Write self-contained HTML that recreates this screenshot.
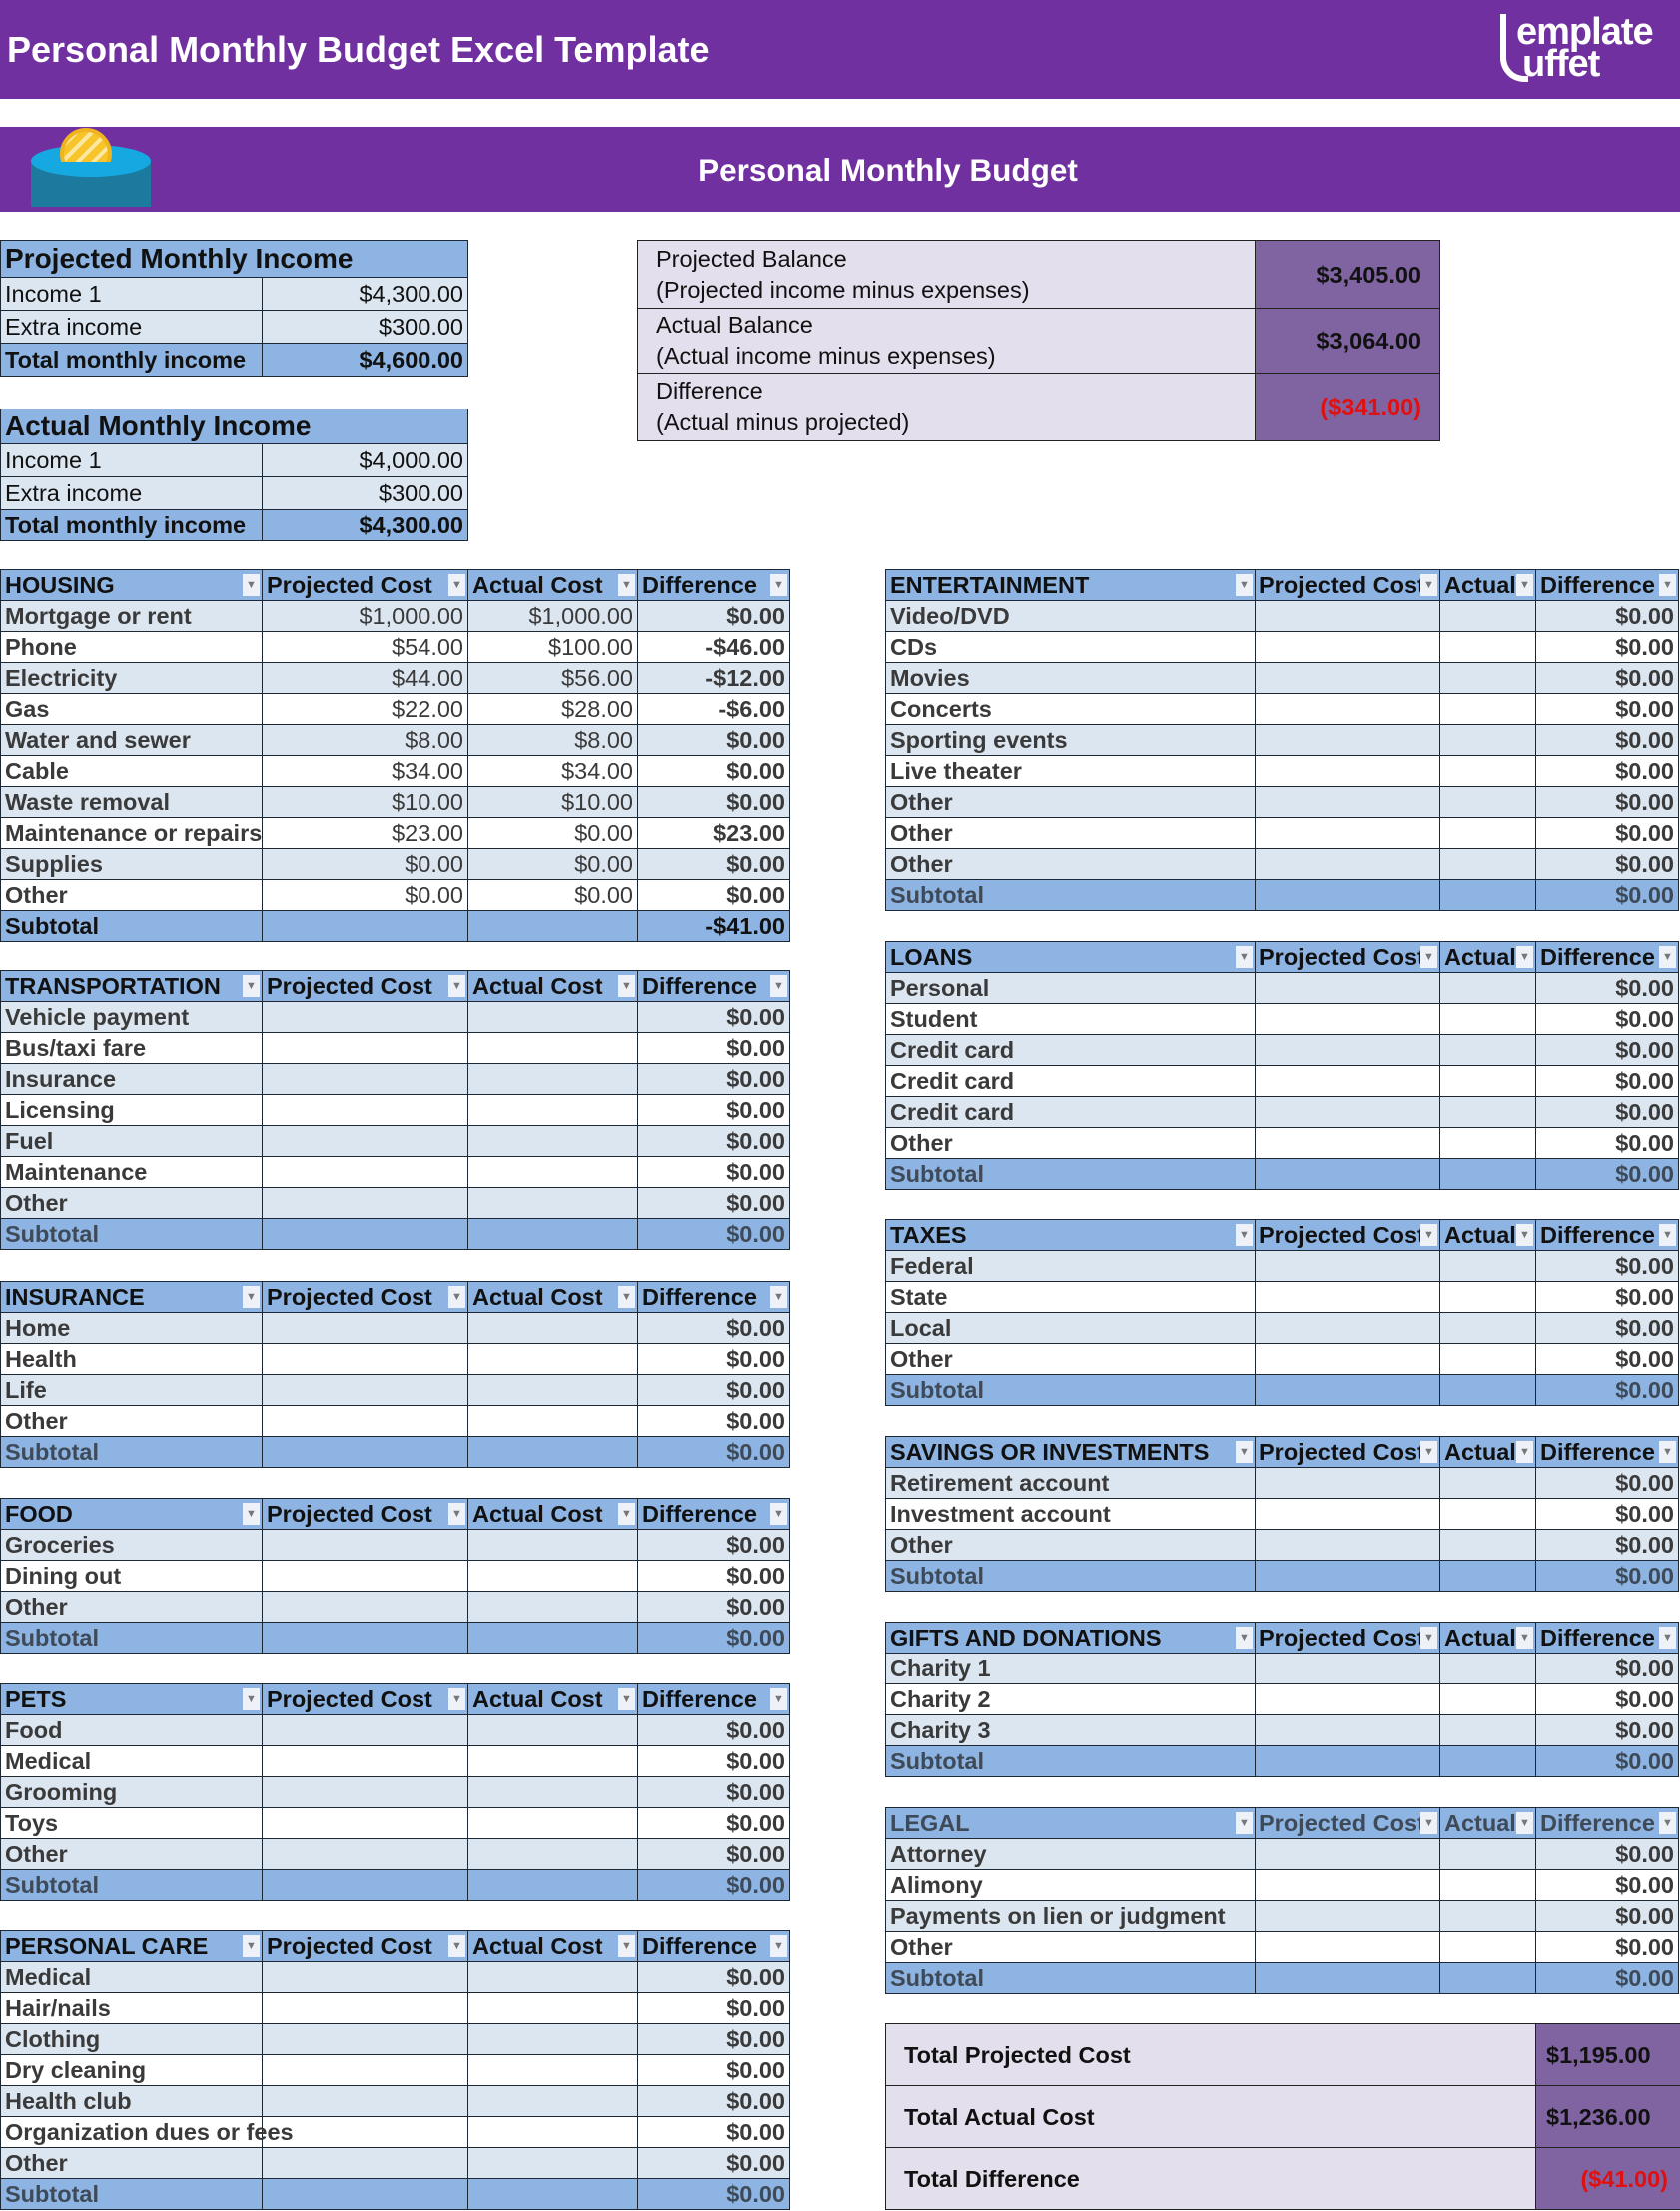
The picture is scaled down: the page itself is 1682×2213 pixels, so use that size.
<!DOCTYPE html>
<html><head><meta charset="utf-8"><style>
body{margin:0;width:1682px;height:2213px;position:relative;background:#fff;font-family:"Liberation Sans",Arial,sans-serif;overflow:hidden}
.bar{position:absolute;left:0;width:1682px;background:#7030a0;color:#fff;font-weight:bold}
table{position:absolute;border-collapse:collapse;table-layout:fixed}
td{position:relative;height:30px;padding:0 4px;border:1px solid #1c2836;font-weight:bold;font-size:23.5px;color:#3a3a3a;white-space:nowrap;overflow:hidden;line-height:28px}
tr.a td{background:#dce6f1}
tr.h td,tr.s td{background:#8db4e2;color:#111}
tr.s td.g,tr.h td.g{color:#3f4a58}
td.r{text-align:right}
td.n{font-weight:normal}
.dd{position:absolute;right:2px;top:4px;width:17px;height:22px;background:#eef2f8;color:#777;font-size:11px;text-align:center;line-height:22px;font-weight:normal}
.inc td{color:#111}
.box td{border:1.5px solid #222;background:#e4dfec;color:#111;font-weight:normal;padding-left:18px}
.box td.v{background:#8064a2;font-weight:bold;text-align:right;padding-right:18px}
</style></head><body>
<div class="bar" style="top:0;height:99px;font-size:36px;line-height:100px;padding-left:7px;box-sizing:border-box">Personal Monthly Budget Excel Template</div>
<div style="position:absolute;left:1498px;top:16px;color:#fff;font-weight:bold;font-size:38px;line-height:32px;letter-spacing:-1px">
<div style="padding-left:20px">emplate</div><div style="padding-left:26px">uffet</div></div>
<div style="position:absolute;left:1502px;top:14px;width:22px;height:62px;border-left:6px solid #fff;border-bottom:6px solid #fff;border-radius:0 0 0 24px"></div>
<div class="bar" style="top:127px;height:85px;font-size:31.5px;line-height:86px;text-align:center;padding-left:120px;box-sizing:border-box"><span style="position:relative;left:-12px">Personal Monthly Budget</span></div>
<div style="position:absolute;left:31px;top:160px;width:120px;height:47px;background:#1c7a9e"></div>
<div style="position:absolute;left:31px;top:145px;width:120px;height:32px;border-radius:50%;background:#16a9e1"></div>
<div style="position:absolute;left:60px;top:128px;width:56px;height:34px;overflow:hidden"><div style="width:52px;height:52px;border-radius:50%;background:repeating-linear-gradient(135deg,#f7c52a 0 7px,#fbe7a0 7px 11px);border:4px solid #f0b41f;box-sizing:border-box"></div></div>

<table class="inc" style="left:0;top:240px;width:468px"><col style="width:262px"><col style="width:206px">
<tr class="h"><td colspan="2" style="height:36px;font-size:28px">Projected Monthly Income</td></tr>
<tr class="a"><td class="n" style="height:32px">Income 1</td><td class="r n">$4,300.00</td></tr>
<tr class="a"><td class="n" style="height:32px">Extra income</td><td class="r n">$300.00</td></tr>
<tr class="h"><td style="height:32px">Total monthly income</td><td class="r">$4,600.00</td></tr></table>
<table class="inc" style="left:0;top:409px;width:468px"><col style="width:262px"><col style="width:206px">
<tr class="h"><td colspan="2" style="height:34px;font-size:28px;border-top:none">Actual Monthly Income</td></tr>
<tr class="a"><td class="n" style="height:32px">Income 1</td><td class="r n">$4,000.00</td></tr>
<tr class="a"><td class="n" style="height:32px">Extra income</td><td class="r n">$300.00</td></tr>
<tr class="h"><td style="height:30px">Total monthly income</td><td class="r">$4,300.00</td></tr></table>

<table class="box" style="left:638px;top:240px;width:803px"><col style="width:618px"><col style="width:185px">
<tr><td style="height:67px;line-height:31px">Projected Balance<br>(Projected income minus expenses)</td><td class="v">$3,405.00</td></tr>
<tr><td style="height:64px;line-height:31px">Actual Balance<br>(Actual income minus expenses)</td><td class="v">$3,064.00</td></tr>
<tr><td style="height:66px;line-height:31px">Difference<br>(Actual minus projected)</td><td class="v" style="color:#e01010;padding-right:18px">($341.00)</td></tr></table>

<table style="left:0;top:570px;width:790px"><col style="width:262px"><col style="width:206px"><col style="width:170px"><col style="width:152px">
<tr class="h"><td>HOUSING<span class="dd">▼</span></td><td>Projected Cost<span class="dd">▼</span></td><td>Actual Cost<span class="dd">▼</span></td><td>Difference<span class="dd">▼</span></td></tr>
<tr class="a"><td>Mortgage or rent</td><td class="r n">$1,000.00</td><td class="r n">$1,000.00</td><td class="r">$0.00</td></tr>
<tr><td>Phone</td><td class="r n">$54.00</td><td class="r n">$100.00</td><td class="r">-$46.00</td></tr>
<tr class="a"><td>Electricity</td><td class="r n">$44.00</td><td class="r n">$56.00</td><td class="r">-$12.00</td></tr>
<tr><td>Gas</td><td class="r n">$22.00</td><td class="r n">$28.00</td><td class="r">-$6.00</td></tr>
<tr class="a"><td>Water and sewer</td><td class="r n">$8.00</td><td class="r n">$8.00</td><td class="r">$0.00</td></tr>
<tr><td>Cable</td><td class="r n">$34.00</td><td class="r n">$34.00</td><td class="r">$0.00</td></tr>
<tr class="a"><td>Waste removal</td><td class="r n">$10.00</td><td class="r n">$10.00</td><td class="r">$0.00</td></tr>
<tr><td>Maintenance or repairs</td><td class="r n">$23.00</td><td class="r n">$0.00</td><td class="r">$23.00</td></tr>
<tr class="a"><td>Supplies</td><td class="r n">$0.00</td><td class="r n">$0.00</td><td class="r">$0.00</td></tr>
<tr><td>Other</td><td class="r n">$0.00</td><td class="r n">$0.00</td><td class="r">$0.00</td></tr>
<tr class="s"><td>Subtotal</td><td></td><td></td><td class="r">-$41.00</td></tr></table>

<table style="left:0;top:971px;width:790px"><col style="width:262px"><col style="width:206px"><col style="width:170px"><col style="width:152px">
<tr class="h"><td>TRANSPORTATION<span class="dd">▼</span></td><td>Projected Cost<span class="dd">▼</span></td><td>Actual Cost<span class="dd">▼</span></td><td>Difference<span class="dd">▼</span></td></tr>
<tr class="a"><td>Vehicle payment</td><td></td><td></td><td class="r">$0.00</td></tr>
<tr><td>Bus/taxi fare</td><td></td><td></td><td class="r">$0.00</td></tr>
<tr class="a"><td>Insurance</td><td></td><td></td><td class="r">$0.00</td></tr>
<tr><td>Licensing</td><td></td><td></td><td class="r">$0.00</td></tr>
<tr class="a"><td>Fuel</td><td></td><td></td><td class="r">$0.00</td></tr>
<tr><td>Maintenance</td><td></td><td></td><td class="r">$0.00</td></tr>
<tr class="a"><td>Other</td><td></td><td></td><td class="r">$0.00</td></tr>
<tr class="s"><td class="g">Subtotal</td><td></td><td></td><td class="r g">$0.00</td></tr></table>

<table style="left:0;top:1282px;width:790px"><col style="width:262px"><col style="width:206px"><col style="width:170px"><col style="width:152px">
<tr class="h"><td>INSURANCE<span class="dd">▼</span></td><td>Projected Cost<span class="dd">▼</span></td><td>Actual Cost<span class="dd">▼</span></td><td>Difference<span class="dd">▼</span></td></tr>
<tr class="a"><td>Home</td><td></td><td></td><td class="r">$0.00</td></tr>
<tr><td>Health</td><td></td><td></td><td class="r">$0.00</td></tr>
<tr class="a"><td>Life</td><td></td><td></td><td class="r">$0.00</td></tr>
<tr><td>Other</td><td></td><td></td><td class="r">$0.00</td></tr>
<tr class="s"><td class="g">Subtotal</td><td></td><td></td><td class="r g">$0.00</td></tr></table>

<table style="left:0;top:1499px;width:790px"><col style="width:262px"><col style="width:206px"><col style="width:170px"><col style="width:152px">
<tr class="h"><td>FOOD<span class="dd">▼</span></td><td>Projected Cost<span class="dd">▼</span></td><td>Actual Cost<span class="dd">▼</span></td><td>Difference<span class="dd">▼</span></td></tr>
<tr class="a"><td>Groceries</td><td></td><td></td><td class="r">$0.00</td></tr>
<tr><td>Dining out</td><td></td><td></td><td class="r">$0.00</td></tr>
<tr class="a"><td>Other</td><td></td><td></td><td class="r">$0.00</td></tr>
<tr class="s"><td class="g">Subtotal</td><td></td><td></td><td class="r g">$0.00</td></tr></table>

<table style="left:0;top:1685px;width:790px"><col style="width:262px"><col style="width:206px"><col style="width:170px"><col style="width:152px">
<tr class="h"><td>PETS<span class="dd">▼</span></td><td>Projected Cost<span class="dd">▼</span></td><td>Actual Cost<span class="dd">▼</span></td><td>Difference<span class="dd">▼</span></td></tr>
<tr class="a"><td>Food</td><td></td><td></td><td class="r">$0.00</td></tr>
<tr><td>Medical</td><td></td><td></td><td class="r">$0.00</td></tr>
<tr class="a"><td>Grooming</td><td></td><td></td><td class="r">$0.00</td></tr>
<tr><td>Toys</td><td></td><td></td><td class="r">$0.00</td></tr>
<tr class="a"><td>Other</td><td></td><td></td><td class="r">$0.00</td></tr>
<tr class="s"><td class="g">Subtotal</td><td></td><td></td><td class="r g">$0.00</td></tr></table>

<table style="left:0;top:1932px;width:790px"><col style="width:262px"><col style="width:206px"><col style="width:170px"><col style="width:152px">
<tr class="h"><td>PERSONAL CARE<span class="dd">▼</span></td><td>Projected Cost<span class="dd">▼</span></td><td>Actual Cost<span class="dd">▼</span></td><td>Difference<span class="dd">▼</span></td></tr>
<tr class="a"><td>Medical</td><td></td><td></td><td class="r">$0.00</td></tr>
<tr><td>Hair/nails</td><td></td><td></td><td class="r">$0.00</td></tr>
<tr class="a"><td>Clothing</td><td></td><td></td><td class="r">$0.00</td></tr>
<tr><td>Dry cleaning</td><td></td><td></td><td class="r">$0.00</td></tr>
<tr class="a"><td>Health club</td><td></td><td></td><td class="r">$0.00</td></tr>
<tr><td style="overflow:visible;z-index:2">Organization dues or fees</td><td></td><td></td><td class="r">$0.00</td></tr>
<tr class="a"><td>Other</td><td></td><td></td><td class="r">$0.00</td></tr>
<tr class="s"><td class="g">Subtotal</td><td></td><td></td><td class="r g">$0.00</td></tr></table>

<table style="left:886px;top:570px;width:794px"><col style="width:370px"><col style="width:185px"><col style="width:96px"><col style="width:143px">
<tr class="h"><td>ENTERTAINMENT<span class="dd">▼</span></td><td>Projected Cost<span class="dd">▼</span></td><td>Actual<span class="dd">▼</span></td><td>Difference<span class="dd">▼</span></td></tr>
<tr class="a"><td>Video/DVD</td><td></td><td></td><td class="r">$0.00</td></tr>
<tr><td>CDs</td><td></td><td></td><td class="r">$0.00</td></tr>
<tr class="a"><td>Movies</td><td></td><td></td><td class="r">$0.00</td></tr>
<tr><td>Concerts</td><td></td><td></td><td class="r">$0.00</td></tr>
<tr class="a"><td>Sporting events</td><td></td><td></td><td class="r">$0.00</td></tr>
<tr><td>Live theater</td><td></td><td></td><td class="r">$0.00</td></tr>
<tr class="a"><td>Other</td><td></td><td></td><td class="r">$0.00</td></tr>
<tr><td>Other</td><td></td><td></td><td class="r">$0.00</td></tr>
<tr class="a"><td>Other</td><td></td><td></td><td class="r">$0.00</td></tr>
<tr class="s"><td class="g">Subtotal</td><td></td><td></td><td class="r g">$0.00</td></tr></table>

<table style="left:886px;top:942px;width:794px"><col style="width:370px"><col style="width:185px"><col style="width:96px"><col style="width:143px">
<tr class="h"><td>LOANS<span class="dd">▼</span></td><td>Projected Cost<span class="dd">▼</span></td><td>Actual<span class="dd">▼</span></td><td>Difference<span class="dd">▼</span></td></tr>
<tr class="a"><td>Personal</td><td></td><td></td><td class="r">$0.00</td></tr>
<tr><td>Student</td><td></td><td></td><td class="r">$0.00</td></tr>
<tr class="a"><td>Credit card</td><td></td><td></td><td class="r">$0.00</td></tr>
<tr><td>Credit card</td><td></td><td></td><td class="r">$0.00</td></tr>
<tr class="a"><td>Credit card</td><td></td><td></td><td class="r">$0.00</td></tr>
<tr><td>Other</td><td></td><td></td><td class="r">$0.00</td></tr>
<tr class="s"><td class="g">Subtotal</td><td></td><td></td><td class="r g">$0.00</td></tr></table>

<table style="left:886px;top:1220px;width:794px"><col style="width:370px"><col style="width:185px"><col style="width:96px"><col style="width:143px">
<tr class="h"><td>TAXES<span class="dd">▼</span></td><td>Projected Cost<span class="dd">▼</span></td><td>Actual<span class="dd">▼</span></td><td>Difference<span class="dd">▼</span></td></tr>
<tr class="a"><td>Federal</td><td></td><td></td><td class="r">$0.00</td></tr>
<tr><td>State</td><td></td><td></td><td class="r">$0.00</td></tr>
<tr class="a"><td>Local</td><td></td><td></td><td class="r">$0.00</td></tr>
<tr><td>Other</td><td></td><td></td><td class="r">$0.00</td></tr>
<tr class="s"><td class="g">Subtotal</td><td></td><td></td><td class="r g">$0.00</td></tr></table>

<table style="left:886px;top:1437px;width:794px"><col style="width:370px"><col style="width:185px"><col style="width:96px"><col style="width:143px">
<tr class="h"><td>SAVINGS OR INVESTMENTS<span class="dd">▼</span></td><td>Projected Cost<span class="dd">▼</span></td><td>Actual<span class="dd">▼</span></td><td>Difference<span class="dd">▼</span></td></tr>
<tr class="a"><td>Retirement account</td><td></td><td></td><td class="r">$0.00</td></tr>
<tr><td>Investment account</td><td></td><td></td><td class="r">$0.00</td></tr>
<tr class="a"><td>Other</td><td></td><td></td><td class="r">$0.00</td></tr>
<tr class="s"><td class="g">Subtotal</td><td></td><td></td><td class="r g">$0.00</td></tr></table>

<table style="left:886px;top:1623px;width:794px"><col style="width:370px"><col style="width:185px"><col style="width:96px"><col style="width:143px">
<tr class="h"><td>GIFTS AND DONATIONS<span class="dd">▼</span></td><td>Projected Cost<span class="dd">▼</span></td><td>Actual<span class="dd">▼</span></td><td>Difference<span class="dd">▼</span></td></tr>
<tr class="a"><td>Charity 1</td><td></td><td></td><td class="r">$0.00</td></tr>
<tr><td>Charity 2</td><td></td><td></td><td class="r">$0.00</td></tr>
<tr class="a"><td>Charity 3</td><td></td><td></td><td class="r">$0.00</td></tr>
<tr class="s"><td class="g">Subtotal</td><td></td><td></td><td class="r g">$0.00</td></tr></table>

<table style="left:886px;top:1809px;width:794px"><col style="width:370px"><col style="width:185px"><col style="width:96px"><col style="width:143px">
<tr class="h"><td class="g">LEGAL<span class="dd">▼</span></td><td class="g">Projected Cost<span class="dd">▼</span></td><td class="g">Actual<span class="dd">▼</span></td><td class="g">Difference<span class="dd">▼</span></td></tr>
<tr class="a"><td>Attorney</td><td></td><td></td><td class="r">$0.00</td></tr>
<tr><td>Alimony</td><td></td><td></td><td class="r">$0.00</td></tr>
<tr class="a"><td>Payments on lien or judgment</td><td></td><td></td><td class="r">$0.00</td></tr>
<tr><td>Other</td><td></td><td></td><td class="r">$0.00</td></tr>
<tr class="s"><td class="g">Subtotal</td><td></td><td></td><td class="r g">$0.00</td></tr></table>

<table class="box" style="left:886px;top:2025px;width:796px"><col style="width:651px"><col style="width:145px">
<tr><td style="height:61px;font-weight:bold">Total Projected Cost</td><td class="v" style="text-align:left;padding-left:10px">$1,195.00</td></tr>
<tr><td style="height:61px;font-weight:bold">Total Actual Cost</td><td class="v" style="text-align:left;padding-left:10px">$1,236.00</td></tr>
<tr><td style="height:61px;font-weight:bold">Total Difference</td><td class="v" style="color:#e01010;padding-right:12px">($41.00)</td></tr></table>
</body></html>
